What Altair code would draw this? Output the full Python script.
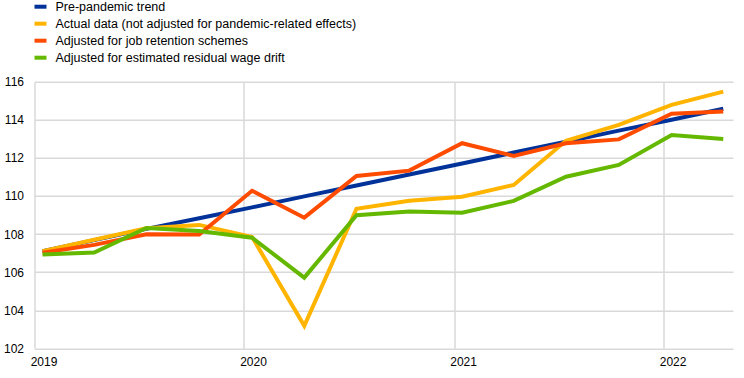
import altair as alt
import pandas as pd

dates = ["2019-01-15", "2019-04-15", "2019-07-15", "2019-10-15",
         "2020-01-15", "2020-04-15", "2020-07-15", "2020-10-15",
         "2021-01-15", "2021-04-15", "2021-07-15", "2021-10-15",
         "2022-01-15", "2022-04-15"]

series_names = [
    "Pre-pandemic trend",
    "Actual data (not adjusted for pandemic-related effects)",
    "Adjusted for job retention schemes",
    "Adjusted for estimated residual wage drift",
]
colors = ["#003299", "#FFB400", "#FF4B00", "#65B800"]

trend = [107.10, 107.68, 108.27, 108.83, 109.40, 109.98, 110.55, 111.13,
         111.70, 112.28, 112.85, 113.43, 114.00, 114.58]
actual = [107.10, 107.70, 108.30, 108.48, 107.85, 103.18, 109.33, 109.75,
          109.96, 110.58, 112.90, 113.73, 114.78, 115.48]
job_retention = [107.02, 107.43, 107.99, 107.97, 110.27, 108.86, 111.05, 111.33,
                 112.77, 112.10, 112.77, 112.97, 114.32, 114.43]
wage_drift = [106.92, 107.03, 108.32, 108.16, 107.81, 105.71, 108.99, 109.18,
              109.12, 109.74, 111.01, 111.63, 113.20, 112.99]

all_values = [trend, actual, job_retention, wage_drift]

rows = []
for name, vals in zip(series_names, all_values):
    for d, v in zip(dates, vals):
        rows.append({"date": d, "value": v, "series": name})
df = pd.DataFrame(rows)

FONT = "Liberation Sans"

chart = alt.Chart(df).mark_line(strokeWidth=4).encode(
    x=alt.X(
        "date:T",
        scale=alt.Scale(
            type="utc",
            domain=[alt.DateTime(year=2019, month=1, date=1, utc=True),
                    alt.DateTime(year=2022, month=5, date=2, utc=True)],
            nice=False,
        ),
        axis=alt.Axis(
            values=[alt.DateTime(year=y, month=1, date=1, utc=True) for y in [2019, 2020, 2021, 2022]],
            labelExpr="utcFormat(datum.value, '%Y')",
            title=None,
            grid=True,
            domain=False,
            ticks=False,
            labelPadding=8,
            labelOffset=9,
            labelAlign="center",
        ),
    ),
    y=alt.Y(
        "value:Q",
        scale=alt.Scale(domain=[102, 116], nice=False, zero=False),
        axis=alt.Axis(
            values=[102, 104, 106, 108, 110, 112, 114, 116],
            title=None,
            grid=True,
            domain=False,
            ticks=False,
            labelPadding=11,
        ),
    ),
    color=alt.Color(
        "series:N",
        scale=alt.Scale(domain=series_names, range=colors),
        sort=series_names,
        legend=alt.Legend(
            title=None,
            orient="none",
            legendX=-2,
            legendY=-83,
            symbolType="stroke",
            symbolSize=144,
            symbolStrokeWidth=4,
            labelOffset=7,
            rowPadding=1,
            padding=0,
            labelLimit=500,
            labelFontSize=12.5,
            labelFont=FONT,
            labelColor="#000000",
        ),
    ),
    order=alt.Order("date:T"),
).properties(
    width=698.5,
    height=266.6,
    autosize=alt.AutoSizeParams(type="none"),
    padding={"left": 34.5, "top": 81.7, "right": 11, "bottom": 29.7},
).configure_view(
    stroke=None
).configure_axis(
    gridColor="#d9d9d9",
    gridWidth=1.5,
    labelFont=FONT,
    labelFontSize=12,
    labelColor="#000000",
)

chart.save("out.html", embed_options={"renderer": "svg", "actions": False})
